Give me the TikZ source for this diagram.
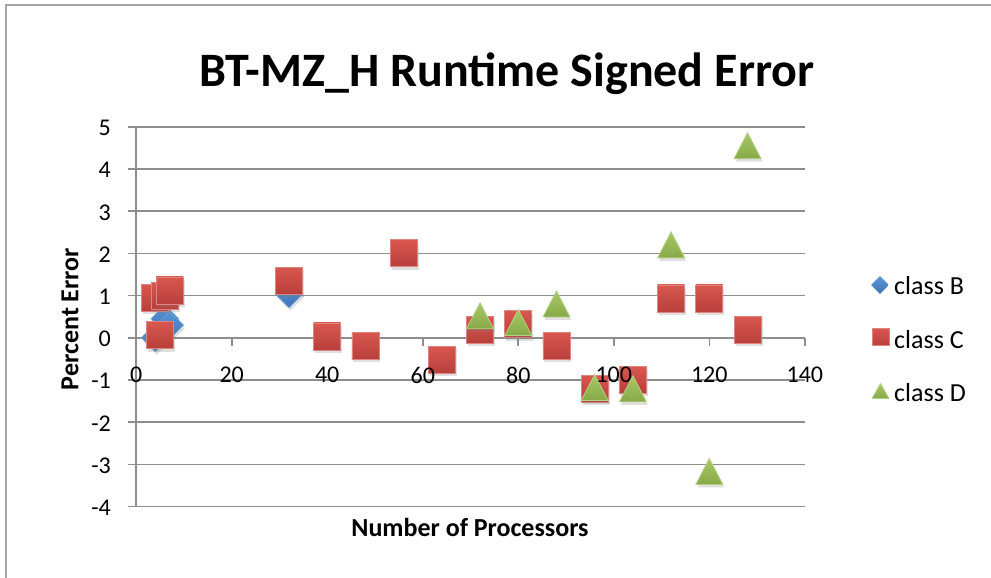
\documentclass[tikz,border=0pt]{standalone}
\usepackage{fontspec}
\setmainfont{Carlito}
\usetikzlibrary{shapes.geometric,shadows}
\definecolor{gridc}{HTML}{8E8E8E}
\definecolor{framec}{HTML}{A6A6A6}
\definecolor{sqtop}{HTML}{D9574F}
\definecolor{sqbot}{HTML}{B83F3B}
\definecolor{sqedge}{HTML}{DC8580}
\definecolor{ditop}{HTML}{5A96D6}
\definecolor{dibot}{HTML}{3E74B4}
\definecolor{diedge}{HTML}{6FA0D8}
\definecolor{trtop}{HTML}{A9C867}
\definecolor{trbot}{HTML}{86A947}
\definecolor{tredge}{HTML}{B6D084}
\tikzset{
  gridl/.style={draw=gridc, line width=1.6pt},
  shad/.style={drop shadow={shadow xshift=1.5pt, shadow yshift=-3pt, opacity=0.25}},
  csq/.style={rectangle, minimum size=27pt, inner sep=0pt, draw=sqedge, line width=0.8pt, top color=sqtop, bottom color=sqbot, shad},
  bdia/.style={diamond, aspect=1, minimum size=28pt, inner sep=0pt, draw=diedge, line width=0.6pt, top color=ditop, bottom color=dibot, shad},
  dtri/.style={draw=tredge, line width=0.8pt, top color=trtop, bottom color=trbot, shad},
  lsq/.style={rectangle, minimum size=17pt, inner sep=0pt, draw=sqedge, line width=0.6pt, top color=sqtop, bottom color=sqbot},
  ldia/.style={diamond, aspect=1, minimum size=18pt, inner sep=0pt, top color=ditop, bottom color=dibot},
  ltri/.style={draw=tredge, line width=0.6pt, top color=trtop, bottom color=trbot},
  ticklab/.style={font=\fontsize{24}{24}\selectfont, inner sep=0pt},
  axtitle/.style={font=\fontsize{26}{26}\selectfont\bfseries, inner sep=0pt},
  legtext/.style={font=\fontsize{26}{26}\selectfont, inner sep=0pt, anchor=base west}
}
\newcommand\tri[1]{\path[dtri] (#1) +(-13.5pt,-13pt) -- +(13.5pt,-13pt) -- +(0pt,13pt) -- cycle;}
\newcommand\ltriangle[1]{\path[ltri] (#1) +(-8.5pt,-7.5pt) -- +(8.5pt,-7.5pt) -- +(0pt,7.5pt) -- cycle;}
\begin{document}
\begin{tikzpicture}[x=1pt,y=-1pt]
\useasboundingbox (0,0) rectangle (991,578);
\fill[white] (0,0) rectangle (991,578);
% chart frame
\draw[framec, line width=1.5pt] (6,578) -- (6,5) -- (991,5);
% title
\node[font=\fontsize{48}{48}\selectfont\bfseries, inner sep=0pt, anchor=base] (title) at (507,86) {BT-MZ\_H Runtime Signed Error};
% grid lines
\foreach \v in {-4,...,5}{
  \draw[gridl] (128,{337.7-42.2*\v}) -- (804.8,{337.7-42.2*\v});
}
% y axis
\draw[gridl] (136.2,126.7) -- (136.2,506.5);
% x ticks
\foreach \v in {0,20,...,140}{
  \draw[gridl] ({136.2+4.776*\v},337.7) -- ({136.2+4.776*\v},345.7);
}
% axis titles
\node[axtitle, anchor=base] (xtitle) at (470,536) {Number of Processors};
\node[axtitle, rotate=90, anchor=center] (ytitle) at (70,319) {Percent Error};
% data
\begin{scope}[shift={(136.2,337.7)}, x=4.776pt, y=42.2pt]
  % class B
  \node[bdia] (b1) at (4,0) {};
  \node[bdia] (b2) at (6,0.45) {};
  \node[bdia] (b3) at (7,0.3) {};
  \node[bdia] (b4) at (32,1.04) {};
  % class C
  \node[csq] (c1) at (4,0.95) {};
  \node[csq] (c2) at (6,1.0) {};
  \node[csq] (c3) at (7,1.12) {};
  \node[csq] (c4) at (5,0.06) {};
  \node[csq] (c5) at (32,1.35) {};
  \node[csq] (c6) at (40,0.03) {};
  \node[csq] (c7) at (48,-0.19) {};
  \node[csq] (c8) at (56,2.0) {};
  \node[csq] (c9) at (64,-0.52) {};
  \node[csq] (c10) at (72,0.19) {};
  \node[csq] (c11) at (80,0.32) {};
  \node[csq] (c12) at (88,-0.19) {};
  \node[csq] (c13) at (96,-1.21) {};
  \node[csq] (c14) at (104,-1.0) {};
  \node[csq] (c15) at (112,0.93) {};
  \node[csq] (c16) at (120,0.93) {};
  \node[csq] (c17) at (128,0.19) {};
  % class D
  \coordinate (d1) at (72,0.52);
  \coordinate (d2) at (80,0.36);
  \coordinate (d3) at (88,0.8);
  \coordinate (d4) at (96,-1.18);
  \coordinate (d5) at (104,-1.21);
  \coordinate (d6) at (112,2.2);
  \coordinate (d7) at (120,-3.17);
  \coordinate (d8) at (128,4.55);
  \foreach \i in {1,...,8}{\tri{d\i}}
\end{scope}
% tick labels (drawn over the data, as in the reference)
\foreach \v in {-4,...,5}{
  \node[ticklab, anchor=east] (yl\v) at (111,{339-42.2*\v}) {\v};
}
\foreach \v in {0,20,...,140}{
  \node[ticklab] (xl\v) at ({136.2+4.776*\v},375) {\v};
}
% legend
\node[ldia] (lgb) at (880,285) {};
\node[legtext] (ltb) at (894,294) {class B};
\node[lsq] (lgc) at (880.5,337) {};
\node[legtext] (ltc) at (894,348) {class C};
\coordinate (lgd) at (880.5,391);
\ltriangle{lgd}
\node[legtext] (ltd) at (894,401) {class D};
\end{tikzpicture}
\end{document}
